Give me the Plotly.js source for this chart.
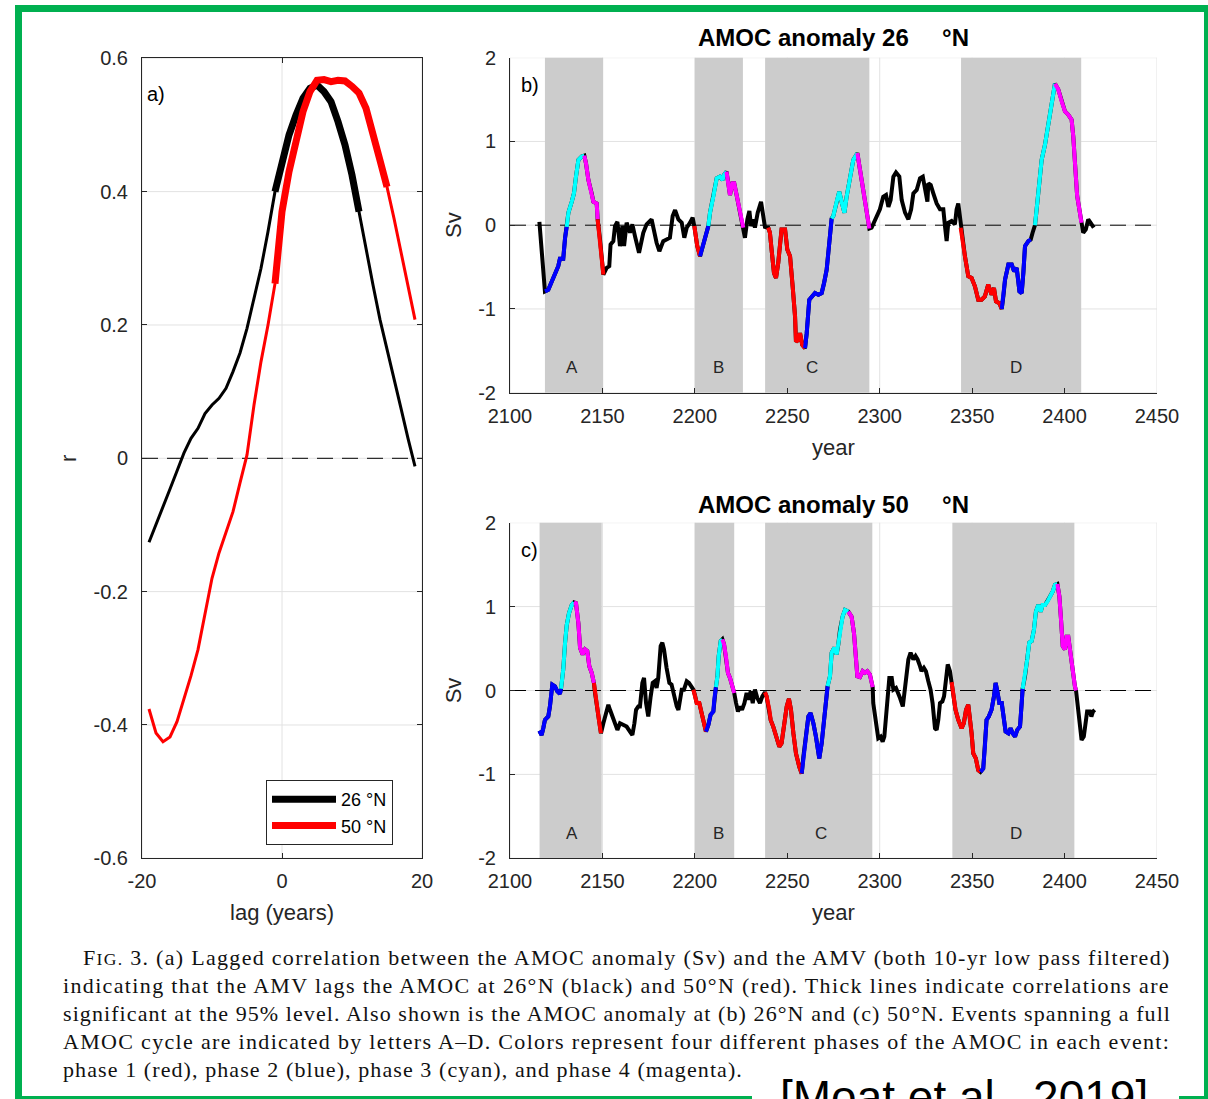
<!DOCTYPE html>
<html>
<head>
<meta charset="utf-8">
<script src="https://cdn.plot.ly/plotly-3.0.1.min.js"></script>
<style>
html,body{margin:0;padding:0;background:#ffffff;}
#chart{width:1208px;height:1099px;}
</style>
</head>
<body>
<div id="chart"></div>
<script>
// ---------------- DATA ----------------
// Panel a: lagged correlation
const lag = [-19,-18,-17,-16,-15,-14,-13,-12,-11,-10,-9,-8,-7,-6,-5,-4,-3,-2,-1,0,1,2,3,4,5,6,7,8,9,10,11,12,13,14,15,16,17,18,19];
const r26 = [-0.126,-0.10,-0.072,-0.046,-0.019,0.008,0.030,0.045,0.067,0.080,0.090,0.105,0.130,0.158,0.195,0.240,0.285,0.340,0.400,0.445,0.485,0.515,0.540,0.555,0.560,0.550,0.535,0.505,0.470,0.425,0.370,0.310,0.260,0.208,0.165,0.120,0.075,0.030,-0.012];
const r50 = [-0.376,-0.412,-0.425,-0.418,-0.395,-0.362,-0.326,-0.287,-0.235,-0.180,-0.142,-0.110,-0.080,-0.037,0.005,0.080,0.145,0.200,0.262,0.370,0.430,0.480,0.520,0.550,0.567,0.568,0.565,0.567,0.566,0.558,0.548,0.525,0.490,0.447,0.407,0.360,0.310,0.260,0.208];
const sig26 = [-1, 11];   // lags where the 26N correlation is significant
const sig50 = [-1, 15];   // lags where the 50N correlation is significant
const seriesNames = ['26 °N', '50 °N'];
const lagTicks = [-20, 0, 20];
const lagTickText = ['-20', '0', '20'];
const rTicks = [-0.6,-0.4,-0.2,0,0.2,0.4,0.6];
const rTickText = ['-0.6','-0.4','-0.2','0','0.2','0.4','0.6'];

// Panel b: AMOC anomaly 26N
const year26 = [2115.9,2118.9,2120.7,2123.4,2126.1,2127.0,2128.8,2129.8,2130.7,2131.6,2133.4,2134.6,2135.7,2137.0,2138.8,2140.2,2141.1,2142.4,2144.2,2145.1,2146.9,2147.4,2148.7,2149.6,2150.5,2152.3,2153.7,2154.4,2155.9,2156.8,2158.1,2159.5,2160.8,2161.7,2163.1,2164.9,2166.2,2167.6,2169.8,2172.1,2173.9,2176.6,2178.1,2179.3,2180.8,2182.9,2184.7,2186.5,2188.0,2189.3,2191.1,2192.9,2194.3,2195.6,2197.4,2198.8,2199.7,2201.3,2202.8,2203.7,2205.5,2207.3,2208.2,2210.0,2211.8,2213.6,2215.0,2215.8,2217.1,2218.1,2219.0,2220.3,2221.3,2222.6,2224.0,2225.3,2226.2,2227.1,2228.4,2229.5,2230.4,2231.6,2232.5,2234.0,2235.8,2237.0,2237.9,2239.7,2240.6,2241.5,2242.8,2243.9,2245.1,2246.9,2248.8,2250.0,2251.5,2252.9,2254.2,2254.7,2256.0,2256.9,2258.1,2259.6,2260.5,2261.9,2263.2,2265.0,2266.8,2268.6,2269.9,2271.3,2272.2,2273.1,2274.0,2274.9,2276.7,2278.1,2279.4,2280.9,2282.1,2283.9,2285.7,2287.9,2289.3,2291.1,2292.9,2294.4,2295.6,2298.4,2300.1,2301.9,2303.4,2304.7,2305.9,2307.4,2308.8,2310.6,2311.9,2313.7,2315.5,2317.0,2318.2,2320.0,2321.8,2323.3,2324.5,2325.8,2326.3,2327.6,2329.0,2330.8,2332.6,2334.4,2335.3,2336.2,2337.1,2338.9,2340.7,2341.6,2342.5,2343.4,2343.8,2344.6,2346.1,2347.9,2349.7,2351.5,2353.3,2355.1,2356.9,2358.7,2360.5,2361.8,2362.9,2364.7,2366.0,2366.9,2367.8,2369.6,2371.4,2372.7,2374.1,2375.6,2376.8,2377.7,2378.6,2380.4,2381.7,2382.7,2384.0,2384.9,2386.7,2387.6,2389.4,2391.2,2393.0,2394.8,2396.6,2398.4,2400.2,2402.0,2403.8,2404.7,2405.6,2406.8,2408.3,2409.1,2410.1,2411.5,2412.8,2414.0,2415.8];
const amoc26 = [0.04,-0.79,-0.77,-0.63,-0.49,-0.40,-0.40,-0.15,-0.02,0.15,0.28,0.38,0.58,0.78,0.82,0.83,0.74,0.54,0.38,0.28,0.26,0.07,-0.17,-0.37,-0.59,-0.51,-0.49,-0.23,-0.19,-0.01,0.04,-0.25,-0.01,-0.25,0.03,-0.09,0.01,-0.13,-0.33,-0.09,0.01,0.07,-0.09,-0.21,-0.31,-0.19,-0.17,-0.15,0.11,0.18,0.07,0.03,-0.15,-0.03,0.03,0.09,-0.01,-0.25,-0.37,-0.29,-0.15,-0.01,0.15,0.34,0.56,0.58,0.54,0.60,0.64,0.50,0.36,0.50,0.50,0.36,0.19,0.03,-0.03,-0.15,0.07,0.17,-0.01,0.07,-0.03,0.15,0.28,0.07,-0.02,-0.03,-0.09,-0.29,-0.57,-0.63,-0.45,-0.05,-0.05,-0.29,-0.37,-0.73,-1.09,-1.39,-1.37,-1.29,-1.43,-1.47,-1.29,-0.89,-0.85,-0.81,-0.83,-0.81,-0.69,-0.53,-0.33,-0.13,0.08,0.11,0.28,0.40,0.28,0.15,0.34,0.58,0.78,0.86,0.66,0.42,0.19,-0.04,-0.03,0.11,0.19,0.34,0.36,0.22,0.30,0.58,0.63,0.58,0.30,0.15,0.07,0.19,0.38,0.42,0.56,0.58,0.40,0.28,0.50,0.48,0.38,0.26,0.19,0.19,-0.01,-0.19,0.03,0.05,0.01,0.19,0.26,0.11,-0.03,-0.17,-0.37,-0.61,-0.63,-0.73,-0.89,-0.89,-0.85,-0.71,-0.83,-0.75,-0.91,-0.93,-1.00,-0.85,-0.65,-0.47,-0.47,-0.55,-0.51,-0.79,-0.81,-0.57,-0.25,-0.19,-0.17,-0.09,0.00,0.19,0.54,0.78,0.96,1.22,1.50,1.69,1.62,1.48,1.36,1.32,1.26,1.06,0.66,0.35,0.15,0.03,-0.09,-0.05,0.07,0.03,-0.03];
// phases: start year, end year, phase id (1 red, 2 blue, 3 cyan, 4 magenta)
const phaseStart26 = [2118.9,2130.7,2140.2,2147.4, 2199.7,2202.8,2207.3,2217.1, 2239.7,2259.6,2274.0,2287.9, 2343.8,2366.0,2384.0,2394.8];
const phaseEnd26   = [2130.7,2140.2,2147.4,2150.5, 2202.8,2207.3,2217.1,2226.2, 2259.6,2274.0,2287.9,2294.4, 2366.0,2381.7,2394.8,2409.1];
const phaseId26    = [2,3,4,1, 1,2,3,4, 1,2,3,4, 1,2,3,4];
const eventStart26 = [2118.9, 2200.0, 2238.0, 2344.0];
const eventEnd26   = [2150.4, 2226.0, 2294.4, 2409.0];
const eventLabelYear26 = [2133.5, 2213.0, 2263.5, 2373.5];

// Panel c: AMOC anomaly 50N
const year50 = [2115.9,2117.1,2118.0,2118.9,2120.7,2121.6,2122.9,2124.3,2125.6,2127.0,2127.6,2128.8,2129.8,2130.7,2131.9,2133.4,2134.6,2135.7,2137.0,2137.9,2139.3,2140.6,2141.8,2142.9,2144.2,2145.4,2146.0,2146.9,2148.1,2149.2,2150.5,2151.9,2153.2,2154.1,2155.5,2156.8,2158.1,2159.5,2161.3,2163.1,2164.9,2166.2,2167.3,2168.2,2169.4,2170.3,2171.6,2172.5,2173.6,2174.8,2176.1,2177.2,2178.4,2179.3,2180.2,2181.5,2182.4,2183.3,2184.7,2186.2,2187.4,2188.7,2190.2,2191.1,2192.0,2192.9,2194.1,2195.6,2196.8,2197.9,2199.2,2200.1,2201.0,2202.4,2203.7,2204.9,2206.0,2207.3,2208.5,2210.0,2210.5,2211.4,2212.2,2212.9,2214.0,2214.9,2215.8,2216.8,2217.9,2219.0,2220.3,2221.3,2222.3,2223.3,2224.4,2225.5,2226.8,2228.0,2229.1,2230.2,2231.3,2232.5,2233.8,2235.2,2236.5,2237.9,2238.8,2240.3,2241.0,2242.4,2244.2,2245.7,2246.9,2248.2,2249.7,2250.9,2252.0,2253.3,2254.7,2256.5,2257.8,2258.7,2260.1,2261.4,2262.6,2264.1,2265.5,2267.3,2268.6,2269.9,2270.9,2271.8,2273.1,2274.0,2275.4,2276.7,2277.6,2278.5,2279.9,2281.2,2283.0,2284.8,2286.1,2287.2,2287.9,2289.3,2290.8,2292.0,2293.3,2294.7,2295.6,2296.2,2296.5,2298.0,2299.2,2300.5,2301.6,2302.5,2303.8,2305.2,2306.5,2307.4,2308.8,2310.1,2311.0,2312.5,2313.7,2314.6,2315.5,2316.7,2318.2,2319.4,2320.5,2321.8,2322.6,2323.9,2325.0,2326.3,2327.5,2328.6,2329.9,2330.8,2331.7,2332.6,2333.9,2334.8,2335.9,2336.8,2338.0,2338.9,2339.8,2341.0,2342.5,2344.3,2345.5,2346.7,2347.9,2348.8,2349.7,2350.6,2352.0,2353.3,2354.5,2356.0,2356.9,2357.8,2359.0,2360.5,2361.8,2362.7,2363.8,2364.7,2366.0,2366.9,2368.1,2369.6,2370.8,2371.9,2373.2,2374.4,2375.9,2376.8,2377.3,2378.6,2379.8,2380.9,2382.2,2383.4,2384.5,2385.8,2387.1,2388.1,2389.4,2390.7,2392.1,2393.6,2394.8,2396.1,2397.2,2398.1,2399.0,2400.2,2401.1,2402.0,2402.9,2403.8,2404.7,2405.6,2406.2,2407.4,2408.3,2409.2,2410.4,2411.3,2412.2,2413.7,2414.5,2415.4,2416.3];
const amoc50 = [-0.48,-0.53,-0.45,-0.35,-0.31,-0.19,0.07,0.05,-0.01,-0.04,0.02,0.25,0.57,0.78,0.92,1.02,1.05,1.04,0.80,0.51,0.43,0.49,0.47,0.29,0.21,0.09,-0.03,-0.19,-0.35,-0.51,-0.39,-0.27,-0.17,-0.23,-0.31,-0.41,-0.47,-0.39,-0.41,-0.43,-0.49,-0.53,-0.39,-0.23,-0.19,-0.19,0.09,0.15,-0.15,-0.31,-0.07,0.09,0.11,0.03,0.15,0.53,0.57,0.49,0.27,0.09,0.07,-0.07,-0.19,-0.23,-0.11,0.01,0.01,0.11,0.09,0.05,0.01,-0.06,-0.15,-0.15,-0.27,-0.39,-0.49,-0.41,-0.29,-0.25,-0.11,0.04,0.17,0.41,0.59,0.61,0.55,0.41,0.21,0.15,0.05,-0.03,-0.15,-0.25,-0.19,-0.23,-0.15,-0.03,-0.11,-0.01,-0.15,0.01,-0.09,-0.15,-0.07,-0.02,-0.07,-0.23,-0.35,-0.43,-0.55,-0.67,-0.63,-0.39,-0.19,-0.10,-0.23,-0.51,-0.75,-0.91,-0.99,-0.79,-0.51,-0.31,-0.27,-0.39,-0.55,-0.81,-0.63,-0.31,-0.07,0.05,0.17,0.45,0.51,0.43,0.55,0.72,0.88,0.96,0.94,0.88,0.68,0.33,0.17,0.16,0.23,0.21,0.23,0.19,0.09,0.04,-0.15,-0.39,-0.57,-0.55,-0.61,-0.55,-0.15,0.15,0.15,0.01,0.03,-0.03,-0.09,-0.19,0.01,0.21,0.37,0.45,0.37,0.41,0.37,0.29,0.23,0.27,0.23,0.11,0.01,-0.15,-0.45,-0.47,-0.35,-0.15,-0.13,-0.07,0.17,0.31,0.23,0.10,-0.07,-0.23,-0.35,-0.45,-0.39,-0.23,-0.17,-0.31,-0.51,-0.75,-0.81,-0.95,-0.97,-0.93,-0.67,-0.35,-0.31,-0.23,-0.07,0.09,-0.03,-0.15,-0.15,-0.31,-0.49,-0.51,-0.45,-0.51,-0.55,-0.47,-0.43,-0.15,0.02,0.17,0.37,0.57,0.59,0.72,0.94,1.02,0.94,1.02,1.02,1.06,1.12,1.18,1.26,1.27,1.12,0.84,0.53,0.49,0.64,0.64,0.49,0.29,0.13,0.05,0.00,-0.23,-0.47,-0.59,-0.55,-0.35,-0.25,-0.25,-0.31,-0.25,-0.23];
const phaseStart50 = [2115.9,2127.6,2134.6,2145.4, 2199.2,2206.0,2211.4,2214.9, 2237.9,2257.8,2271.8,2283.0, 2338.9,2354.5,2377.3,2396.1];
const phaseEnd50   = [2127.6,2134.6,2145.4,2149.2, 2206.0,2211.4,2214.9,2221.3, 2257.8,2271.8,2283.0,2296.2, 2354.5,2377.3,2396.1,2406.2];
const phaseId50    = [2,3,4,1, 1,2,3,4, 1,2,3,4, 1,2,3,4];
const eventStart50 = [2116.0, 2200.0, 2238.0, 2339.3];
const eventEnd50   = [2149.6, 2221.3, 2296.0, 2405.3];
const eventLabelYear50 = [2133.4, 2213.0, 2268.0, 2373.5];

const eventLetters = ['A', 'B', 'C', 'D'];
const yearTicks = [2100,2150,2200,2250,2300,2350,2400,2450];
const yearTickText = ['2100','2150','2200','2250','2300','2350','2400','2450'];
const svTicks = [-2,-1,0,1,2];
const svTickText = ['-2','-1','0','1','2'];
const titles = ['AMOC anomaly 26\u00a0\u00a0\u00a0\u00a0 °N', 'AMOC anomaly 50\u00a0\u00a0\u00a0\u00a0 °N'];

const captionLead = 'F';
const captionLeadSmall = 'IG.';
const captionLines = [
  ' 3. (a) Lagged correlation between the AMOC anomaly (Sv) and the AMV (both 10-yr low pass filtered)',
  'indicating that the AMV lags the AMOC at 26°N (black) and 50°N (red). Thick lines indicate correlations are',
  'significant at the 95% level. Also shown is the AMOC anomaly at (b) 26°N and (c) 50°N. Events spanning a full',
  'AMOC cycle are indicated by letters A–D. Colors represent four different phases of the AMOC in each event:',
  'phase 1 (red), phase 2 (blue), phase 3 (cyan), and phase 4 (magenta).'
];
const sourceNote = '[Moat et al., 2019]';

// ---------------- HELPERS ----------------
const W = 1208, H = 1099;
const fx = p => p / W;
const fy = p => 1 - p / H;
const INK = '#262626';
const GRID = '#e2e2e2';
const SANS = "'Liberation Sans', Arial, Helvetica, sans-serif";
const SERIF = "'Liberation Serif', 'Times New Roman', serif";
const phaseColor = {1: '#ff0000', 2: '#0000ff', 3: '#00ffff', 4: '#ff00ff'};

function subset(xs, ys, lo, hi) {
  const ox = [], oy = [];
  xs.forEach((v, i) => { if (v >= lo - 1e-9 && v <= hi + 1e-9) { ox.push(v); oy.push(ys[i]); } });
  return {x: ox, y: oy};
}

const traces = [];
// panel a
[[r26, sig26, '#000000', seriesNames[0]], [r50, sig50, '#ff0000', seriesNames[1]]].forEach(([r, sig, col, nm]) => {
  traces.push({x: lag, y: r, xaxis: 'x', yaxis: 'y', mode: 'lines', line: {color: col, width: 3}, showlegend: false, hoverinfo: 'skip'});
  const s = subset(lag, r, sig[0], sig[1]);
  traces.push({x: s.x, y: s.y, xaxis: 'x', yaxis: 'y', mode: 'lines', line: {color: col, width: 7}, name: nm, showlegend: true, hoverinfo: 'skip'});
});
// panels b, c
function phaseTraces(years, vals, ps, pe, pid, xa, ya) {
  traces.push({x: years, y: vals, xaxis: xa, yaxis: ya, mode: 'lines', line: {color: '#000000', width: 4}, showlegend: false, hoverinfo: 'skip'});
  ps.forEach((s, i) => {
    const sub = subset(years, vals, s, pe[i]);
    traces.push({x: sub.x, y: sub.y, xaxis: xa, yaxis: ya, mode: 'lines', line: {color: phaseColor[pid[i]], width: 4}, showlegend: false, hoverinfo: 'skip'});
  });
}
phaseTraces(year26, amoc26, phaseStart26, phaseEnd26, phaseId26, 'x2', 'y2');
phaseTraces(year50, amoc50, phaseStart50, phaseEnd50, phaseId50, 'x3', 'y3');

// ---------------- LAYOUT ----------------
function axisBase(extra) {
  return Object.assign({
    showline: true, linecolor: INK, linewidth: 1,
    ticks: 'inside', ticklen: 5, tickcolor: INK, tickwidth: 1,
    showgrid: false, zeroline: false,
    tickfont: {family: SANS, size: 20, color: INK},
    tickmode: 'array', automargin: true, fixedrange: true
  }, extra);
}
const titleFont = {family: SANS, size: 22, color: INK};

const shapes = [];
// grid lines (drawn as shapes so the event patches can cover them)
function grid(xr, yr, xt, yt) {
  xt.forEach(v => shapes.push({type: 'line', xref: xr, yref: yr + ' domain', x0: v, x1: v, y0: 0, y1: 1, line: {color: GRID, width: 1}, layer: 'below'}));
  yt.forEach(v => shapes.push({type: 'line', xref: xr + ' domain', yref: yr, x0: 0, x1: 1, y0: v, y1: v, line: {color: GRID, width: 1}, layer: 'below'}));
}
grid('x', 'y', lagTicks, rTicks);
grid('x2', 'y2', yearTicks, svTicks);
grid('x3', 'y3', yearTicks, svTicks);
// event patches
function patches(starts, ends, xr, yr) {
  starts.forEach((s, i) => shapes.push({type: 'rect', xref: xr, yref: yr + ' domain', x0: s, x1: ends[i], y0: 0, y1: 1,
    fillcolor: '#cccccc', line: {width: 0}, layer: 'below'}));
}
patches(eventStart26, eventEnd26, 'x2', 'y2');
patches(eventStart50, eventEnd50, 'x3', 'y3');
// zero reference lines
[['x', 'y'], ['x2', 'y2'], ['x3', 'y3']].forEach(([xr, yr]) => shapes.push({type: 'line', xref: xr + ' domain', yref: yr,
  x0: 0, x1: 1, y0: 0, y1: 0, line: {color: '#000000', width: 1, dash: '16px,9px'}, layer: 'below'}));
// green frame and white box under the source note
shapes.push({type: 'rect', xref: 'paper', yref: 'paper', x0: fx(18.5), x1: fx(1207.5), y0: fy(1099.5), y1: fy(8.5),
  line: {color: '#00b050', width: 7}, fillcolor: 'rgba(0,0,0,0)', layer: 'above'});
shapes.push({type: 'rect', xref: 'paper', yref: 'paper', x0: fx(752), x1: fx(1179), y0: fy(1110), y1: fy(1085),
  line: {width: 0}, fillcolor: '#ffffff', layer: 'above'});

const annotations = [];
// panel titles
annotations.push({text: '<b>' + titles[0] + '</b>', xref: 'paper', yref: 'paper', x: fx(833), y: fy(38), xanchor: 'center', yanchor: 'middle', showarrow: false, font: {family: SANS, size: 24, color: '#000'}});
annotations.push({text: '<b>' + titles[1] + '</b>', xref: 'paper', yref: 'paper', x: fx(833), y: fy(504), xanchor: 'center', yanchor: 'middle', showarrow: false, font: {family: SANS, size: 24, color: '#000'}});
// panel labels
[['a)', 145, 94], ['b)', 519, 85], ['c)', 519, 550]].forEach(([t, x, y]) => annotations.push({text: t, xref: 'paper', yref: 'paper', x: fx(x), y: fy(y), xanchor: 'left', yanchor: 'middle', showarrow: false, font: {family: SANS, size: 20, color: '#000'}}));
// event letters
function letters(xs, xr, yr) {
  xs.forEach((x, i) => annotations.push({text: eventLetters[i], xref: xr, yref: yr, x: x, y: -1.7, showarrow: false, font: {family: SANS, size: 17, color: INK}}));
}
letters(eventLabelYear26, 'x2', 'y2');
letters(eventLabelYear50, 'x3', 'y3');

// caption: lines stretched to the reference widths with letter spacing
const capSize = 22, capSmall = 17.6;
const ctx = document.createElement('canvas').getContext('2d');
function measure(str, size) { ctx.font = size + 'px ' + SERIF; return ctx.measureText(str).width; }
const lineLeft = [83, 63, 63, 63, 63];
const lineRight = [1173, 1173, 1173, 1173, 743];
captionLines.forEach((ln, i) => {
  let txt;
  const target = lineRight[i] - lineLeft[i];
  if (i === 0) {
    const nat = measure(captionLead, capSize) + measure(captionLeadSmall, capSmall) + measure(ln, capSize);
    const nChars = captionLead.length + captionLeadSmall.length + ln.length;
    const ls = (target - nat) / nChars;
    txt = '<span style="letter-spacing:' + ls.toFixed(2) + 'px">' + captionLead + '</span>' +
          '<span style="font-size:' + capSmall + 'px;letter-spacing:' + ls.toFixed(2) + 'px">' + captionLeadSmall + '</span>' +
          '<span style="letter-spacing:' + ls.toFixed(2) + 'px">' + ln + '</span>';
  } else {
    const nat = measure(ln, capSize);
    const ls = (target - nat) / ln.length;
    txt = '<span style="letter-spacing:' + ls.toFixed(2) + 'px">' + ln + '</span>';
  }
  annotations.push({text: txt, xref: 'paper', yref: 'paper', x: fx(lineLeft[i] - 2), y: fy(957 + 28 * i), xanchor: 'left', yanchor: 'middle', align: 'left', showarrow: false, font: {family: SERIF, size: capSize, color: '#111'}});
});
annotations.push({text: sourceNote, xref: 'paper', yref: 'paper', x: fx(964), y: fy(1097), xanchor: 'center', yanchor: 'middle', showarrow: false, font: {family: SANS, size: 46, color: '#000'}});

const layout = {
  width: W, height: H,
  margin: {l: 0, r: 0, t: 0, b: 0, pad: 0, autoexpand: false},
  paper_bgcolor: '#ffffff', plot_bgcolor: '#ffffff',
  font: {family: SANS, color: INK},
  showlegend: true,
  legend: {x: fx(266), y: fy(780), xanchor: 'left', yanchor: 'top', bgcolor: '#ffffff', bordercolor: INK, borderwidth: 1,
           font: {family: SANS, size: 18, color: '#000'}, itemwidth: 64, tracegroupgap: 0, traceorder: 'normal'},
  xaxis: axisBase({domain: [fx(142), fx(422)], range: [-20, 20], anchor: 'y', mirror: 'ticks', tickvals: lagTicks, ticktext: lagTickText,
                   ticklabelstandoff: 5, title: {text: 'lag (years)', font: titleFont, standoff: 13}}),
  yaxis: axisBase({domain: [fy(858.3), fy(58.3)], range: [-0.6, 0.6], anchor: 'x', mirror: 'ticks', tickvals: rTicks, ticktext: rTickText,
                   ticklabelstandoff: 9, title: {text: 'r', font: titleFont, standoff: 10}}),
  xaxis2: axisBase({domain: [fx(510), fx(1157)], range: [2100, 2450], anchor: 'y2', tickvals: yearTicks, ticktext: yearTickText,
                   ticklabelstandoff: 5, title: {text: 'year', font: titleFont, standoff: 13}}),
  yaxis2: axisBase({domain: [fy(392.7), fy(57.7)], range: [-2, 2], anchor: 'x2', tickvals: svTicks, ticktext: svTickText,
                   ticklabelstandoff: 9, title: {text: 'Sv', font: titleFont, standoff: 10}}),
  xaxis3: axisBase({domain: [fx(510), fx(1157)], range: [2100, 2450], anchor: 'y3', tickvals: yearTicks, ticktext: yearTickText,
                   ticklabelstandoff: 5, title: {text: 'year', font: titleFont, standoff: 13}}),
  yaxis3: axisBase({domain: [fy(858.3), fy(522.7)], range: [-2, 2], anchor: 'x3', tickvals: svTicks, ticktext: svTickText,
                   ticklabelstandoff: 9, title: {text: 'Sv', font: titleFont, standoff: 10}}),
  shapes: shapes,
  annotations: annotations
};

Plotly.newPlot('chart', traces, layout, {displayModeBar: false, staticPlot: true});
</script>
</body>
</html>
